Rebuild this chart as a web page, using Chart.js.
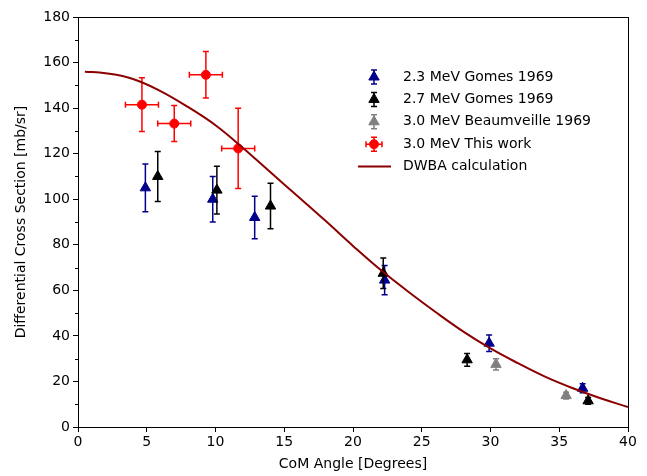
<!DOCTYPE html>
<html>
<head>
<meta charset="utf-8">
<script src="https://cdn.jsdelivr.net/npm/chart.js@4/dist/chart.umd.min.js"></script>
<style>
  html, body { margin: 0; padding: 0; background: #fff; }
  #wrap { width: 647px; height: 476px; }
</style>
</head>
<body>
<div id="wrap"><canvas id="chart1" width="647" height="476"></canvas></div>
<script>
// 2.3 MeV Gomes 1969
var gomes23X = [4.9, 9.8, 12.85, 22.3, 29.9, 36.7];
var gomes23Y = [105, 100, 92, 64.5, 36.8, 17];
var gomes23Err = [10.5, 10, 9.3, 6.4, 3.6, 2];

// 2.7 MeV Gomes 1969
var gomes27X = [5.8, 10.1, 14.0, 22.2, 28.3, 37.1];
var gomes27Y = [110, 104, 97, 67.5, 29.5, 11.5];
var gomes27Err = [11, 10.5, 10, 6.7, 2.8, 1.5];

// 3.0 MeV Beaumveille 1969
var beauX = [30.4, 35.5];
var beauY = [27.5, 13.8];
var beauErr = [2.5, 1.5];

// 3.0 MeV This work
var thisX = [4.65, 7.0, 9.3, 11.65];
var thisY = [141.5, 133.2, 154.6, 122.3];
var thisErrY = [11.8, 7.9, 10.2, 17.6];
var thisErrX = [1.2, 1.2, 1.2, 1.2];

// DWBA calculation
var dwbaX = [0.5, 2, 4, 6, 8, 10, 12, 14, 16, 18, 20, 22, 24, 26, 28, 30, 32, 34, 36, 38, 40];
var dwbaY = [156, 155.3, 152.8, 147.5, 140.5, 132.5, 122.5, 111.8, 101.2, 90.5, 79.5, 69, 59.5, 50.5, 42, 34.5, 28, 22, 17, 12.6, 8.8];

var yMinorTicks = [10, 30, 50, 70, 90, 110, 130, 150, 170];

function pts(xs, ys) {
    var out = [];
    for (var i = 0; i < xs.length; i++) out.push({x: xs[i], y: ys[i]});
    return out;
}

Chart.defaults.font.family = "'DejaVu Sans', sans-serif";
Chart.defaults.font.size = 14;
Chart.defaults.color = '#000';

// error bars, drawn right before each dataset so markers sit on top
var errorBars = {
    id: 'errorBars',
    beforeDatasetDraw: function(chart, args) {
        var ds = chart.data.datasets[args.index];
        if (!ds.errY) return;
        var ctx = chart.ctx, xs = chart.scales.x, ys = chart.scales.y;
        var cap = 3;
        ctx.save();
        ctx.strokeStyle = ds.borderColor;
        ctx.lineWidth = 1.5;
        ds.data.forEach(function(p, i) {
            var px = xs.getPixelForValue(p.x);
            var py = ys.getPixelForValue(p.y);
            var top = ys.getPixelForValue(p.y + ds.errY[i]);
            var bot = ys.getPixelForValue(p.y - ds.errY[i]);
            ctx.beginPath();
            ctx.moveTo(px, top); ctx.lineTo(px, bot);
            ctx.moveTo(px - cap, top); ctx.lineTo(px + cap, top);
            ctx.moveTo(px - cap, bot); ctx.lineTo(px + cap, bot);
            if (ds.errX) {
                var l = xs.getPixelForValue(p.x - ds.errX[i]);
                var r = xs.getPixelForValue(p.x + ds.errX[i]);
                ctx.moveTo(l, py); ctx.lineTo(r, py);
                ctx.moveTo(l, py - cap); ctx.lineTo(l, py + cap);
                ctx.moveTo(r, py - cap); ctx.lineTo(r, py + cap);
            }
            ctx.stroke();
        });
        ctx.restore();
    }
};

// box around plot + minor y ticks
var frame = {
    id: 'frame',
    afterDraw: function(chart) {
        var ctx = chart.ctx, a = chart.chartArea, ys = chart.scales.y;
        ctx.save();
        ctx.strokeStyle = '#000';
        ctx.lineWidth = 1;
        ctx.strokeRect(a.left + 0.5, a.top + 0.5, a.right - a.left, a.bottom - a.top);
        ctx.beginPath();
        yMinorTicks.forEach(function(v) {
            var py = Math.round(ys.getPixelForValue(v)) + 0.5;
            ctx.moveTo(a.left, py); ctx.lineTo(a.left - 3, py);
        });
        ctx.stroke();
        ctx.restore();
    }
};

// matplotlib-like legend without a frame
var plotLegend = {
    id: 'plotLegend',
    afterDraw: function(chart) {
        var ctx = chart.ctx;
        var mx = 374, tx = 403, y0 = 77, dy = 22.4;
        var items = chart.data.datasets.slice().sort(function(a, b) { return a.legendRank - b.legendRank; });
        ctx.save();
        items.forEach(function(ds, k) {
            var y = y0 + k * dy;
            ctx.strokeStyle = ds.borderColor;
            ctx.fillStyle = ds.backgroundColor;
            if (ds.type === 'line') {
                ctx.lineWidth = 2;
                ctx.beginPath();
                ctx.moveTo(358, y); ctx.lineTo(391, y);
                ctx.stroke();
            } else {
                ctx.lineWidth = 1.5;
                ctx.beginPath();
                ctx.moveTo(mx, y - 7); ctx.lineTo(mx, y + 7);
                ctx.moveTo(mx - 3, y - 7); ctx.lineTo(mx + 3, y - 7);
                ctx.moveTo(mx - 3, y + 7); ctx.lineTo(mx + 3, y + 7);
                if (ds.errX) {
                    ctx.moveTo(mx - 8, y); ctx.lineTo(mx + 8, y);
                    ctx.moveTo(mx - 8, y - 3); ctx.lineTo(mx - 8, y + 3);
                    ctx.moveTo(mx + 8, y - 3); ctx.lineTo(mx + 8, y + 3);
                }
                ctx.stroke();
                ctx.lineWidth = 1;
                ctx.beginPath();
                if (ds.pointStyle === 'circle') {
                    ctx.arc(mx, y, ds.pointRadius, 0, Math.PI * 2);
                } else {
                    var r = ds.pointRadius;
                    ctx.moveTo(mx, y - r);
                    ctx.lineTo(mx + r * 0.866, y + r / 2);
                    ctx.lineTo(mx - r * 0.866, y + r / 2);
                    ctx.closePath();
                }
                ctx.fill();
                ctx.stroke();
            }
            ctx.fillStyle = '#000';
            ctx.font = "14px 'DejaVu Sans', sans-serif";
            ctx.textBaseline = 'middle';
            ctx.textAlign = 'left';
            ctx.fillText(ds.label, tx, y);
        });
        ctx.restore();
    }
};

var ctx = document.getElementById('chart1').getContext('2d');
var chartObj = new Chart(ctx, {
    type: 'scatter',
    data: {
        datasets: [{
            type: 'line',
            label: 'DWBA calculation',
            data: pts(dwbaX, dwbaY),
            borderColor: '#8b0000',
            backgroundColor: '#8b0000',
            borderWidth: 2,
            pointRadius: 0,
            tension: 0.4,
            fill: false,
            order: 0,
            legendRank: 4
        }, {
            label: '3.0 MeV This work',
            data: pts(thisX, thisY),
            errY: thisErrY,
            errX: thisErrX,
            borderColor: '#ff0000',
            backgroundColor: '#ff0000',
            pointStyle: 'circle',
            pointRadius: 4.5,
            pointBorderWidth: 1,
            order: 1,
            legendRank: 3
        }, {
            label: '3.0 MeV Beaumveille 1969',
            data: pts(beauX, beauY),
            errY: beauErr,
            borderColor: '#808080',
            backgroundColor: '#808080',
            pointStyle: 'triangle',
            pointRadius: 6,
            pointBorderWidth: 1,
            order: 2,
            legendRank: 2
        }, {
            label: '2.7 MeV Gomes 1969',
            data: pts(gomes27X, gomes27Y),
            errY: gomes27Err,
            borderColor: '#000000',
            backgroundColor: '#000000',
            pointStyle: 'triangle',
            pointRadius: 6,
            pointBorderWidth: 1,
            order: 3,
            legendRank: 1
        }, {
            label: '2.3 MeV Gomes 1969',
            data: pts(gomes23X, gomes23Y),
            errY: gomes23Err,
            borderColor: '#00008b',
            backgroundColor: '#00008b',
            pointStyle: 'triangle',
            pointRadius: 6,
            pointBorderWidth: 1,
            order: 4,
            legendRank: 0
        }]
    },
    options: {
        responsive: false,
        animation: false,
        layout: { padding: { left: 0, top: 17, right: 19, bottom: 0 } },
        plugins: {
            legend: { display: false },
            tooltip: { enabled: false }
        },
        scales: {
            x: {
                type: 'linear',
                min: 0,
                max: 40,
                ticks: { stepSize: 5, padding: 2, color: '#000' },
                grid: { drawOnChartArea: false, tickLength: 5, tickColor: '#000' },
                border: { color: '#000', width: 1 },
                title: { display: true, text: 'CoM Angle [Degrees]', color: '#000', padding: { top: 0, bottom: 3 } },
                afterFit: function(scale) { scale.height = 49; }
            },
            y: {
                min: 0,
                max: 180,
                ticks: { stepSize: 20, padding: 3, color: '#000' },
                grid: { drawOnChartArea: false, tickLength: 5, tickColor: '#000' },
                border: { color: '#000', width: 1 },
                title: { display: true, text: 'Differential Cross Section [mb/sr]', color: '#000', padding: { top: 13, bottom: 0 } },
                afterFit: function(scale) { scale.width = 78; }
            }
        }
    },
    plugins: [errorBars, frame, plotLegend]
});
</script>
</body>
</html>
